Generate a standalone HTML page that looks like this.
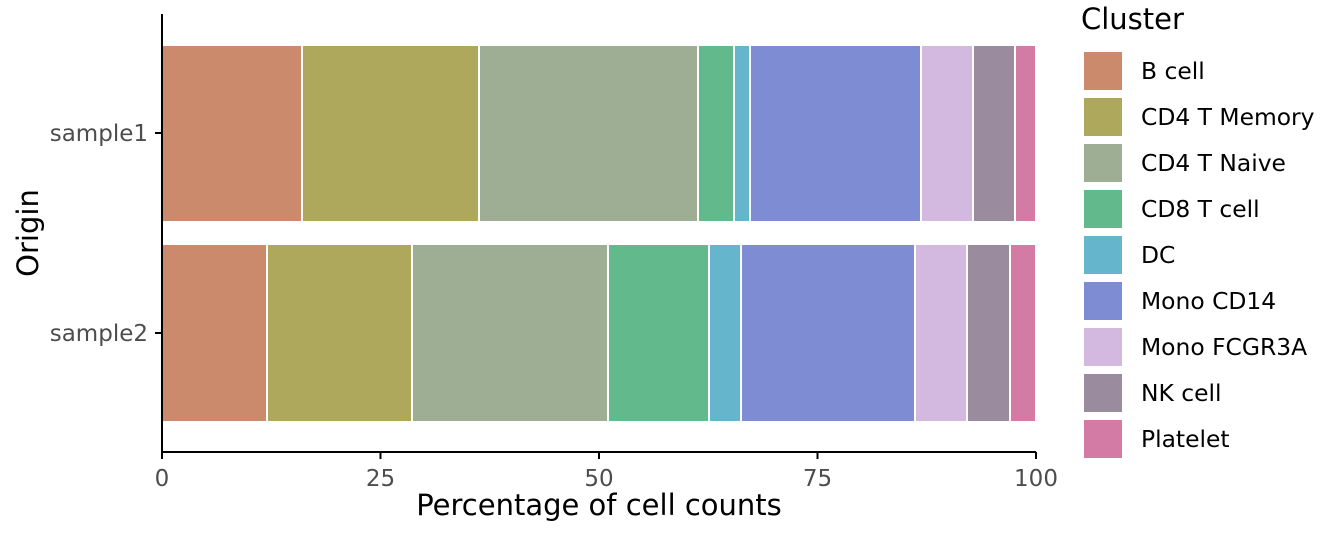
<!DOCTYPE html>
<html><head><meta charset="utf-8"><style>body{margin:0;background:#fff}</style></head><body>
<svg width="1344" height="537" xmlns="http://www.w3.org/2000/svg" font-family="DejaVu Sans, Liberation Sans, sans-serif">
<rect width="1344" height="537" fill="#fff"/>
<g stroke="#fff" stroke-width="2">
<rect x="162" y="45" width="140" height="177" fill="#CC8A6C"/>
<rect x="302" y="45" width="177" height="177" fill="#ADA85B"/>
<rect x="479" y="45" width="219" height="177" fill="#9DAE94"/>
<rect x="698" y="45" width="36" height="177" fill="#62BA8C"/>
<rect x="734" y="45" width="16" height="177" fill="#65B5CC"/>
<rect x="750" y="45" width="171" height="177" fill="#7D8CD3"/>
<rect x="921" y="45" width="52" height="177" fill="#D3B9E0"/>
<rect x="973" y="45" width="42" height="177" fill="#9A8B9E"/>
<rect x="1015" y="45" width="21" height="177" fill="#D37AA5"/>
<rect x="162" y="244" width="105" height="178" fill="#CC8A6C"/>
<rect x="267" y="244" width="145" height="178" fill="#ADA85B"/>
<rect x="412" y="244" width="196" height="178" fill="#9DAE94"/>
<rect x="608" y="244" width="101" height="178" fill="#62BA8C"/>
<rect x="709" y="244" width="32" height="178" fill="#65B5CC"/>
<rect x="741" y="244" width="174" height="178" fill="#7D8CD3"/>
<rect x="915" y="244" width="52" height="178" fill="#D3B9E0"/>
<rect x="967" y="244" width="43" height="178" fill="#9A8B9E"/>
<rect x="1010" y="244" width="26" height="178" fill="#D37AA5"/>
</g>
<g stroke="#000" stroke-width="2" fill="none">
<line x1="162" y1="14" x2="162" y2="453"/>
<line x1="161" y1="452" x2="1036" y2="452"/>
<line x1="155" y1="133" x2="162" y2="133"/><line x1="155" y1="333" x2="162" y2="333"/>
<line x1="162" y1="452" x2="162" y2="459"/><line x1="380.5" y1="452" x2="380.5" y2="459"/>
<line x1="599" y1="452" x2="599" y2="459"/><line x1="817.5" y1="452" x2="817.5" y2="459"/>
<line x1="1036" y1="452" x2="1036" y2="459"/>
</g>
<g fill="#4d4d4d" font-size="23">
<text x="148" y="141" text-anchor="end">sample1</text>
<text x="148" y="341" text-anchor="end">sample2</text>
<g text-anchor="middle"><text x="162" y="486">0</text><text x="380.5" y="486">25</text><text x="599" y="486">50</text><text x="817.5" y="486">75</text><text x="1036" y="486">100</text></g>
</g>
<text x="599" y="515" text-anchor="middle" font-size="29">Percentage of cell counts</text>
<text x="38" y="233" text-anchor="middle" font-size="29" transform="rotate(-90 38 233)">Origin</text>
<text x="1081" y="29" font-size="29">Cluster</text>
<g stroke="#fff" stroke-width="2">
<rect x="1083" y="51" width="40" height="40" fill="#CC8A6C"/>
<rect x="1083" y="97" width="40" height="40" fill="#ADA85B"/>
<rect x="1083" y="143" width="40" height="40" fill="#9DAE94"/>
<rect x="1083" y="189" width="40" height="40" fill="#62BA8C"/>
<rect x="1083" y="235" width="40" height="40" fill="#65B5CC"/>
<rect x="1083" y="281" width="40" height="40" fill="#7D8CD3"/>
<rect x="1083" y="327" width="40" height="40" fill="#D3B9E0"/>
<rect x="1083" y="373" width="40" height="40" fill="#9A8B9E"/>
<rect x="1083" y="419" width="40" height="40" fill="#D37AA5"/>
</g>
<g font-size="23.4" fill="#000">
<text x="1141" y="79">B cell</text><text x="1141" y="125">CD4 T Memory</text><text x="1141" y="171">CD4 T Naive</text>
<text x="1141" y="217">CD8 T cell</text><text x="1141" y="263">DC</text><text x="1141" y="309">Mono CD14</text>
<text x="1141" y="355">Mono FCGR3A</text><text x="1141" y="401">NK cell</text><text x="1141" y="447">Platelet</text>
</g>
</svg>
</body></html>
